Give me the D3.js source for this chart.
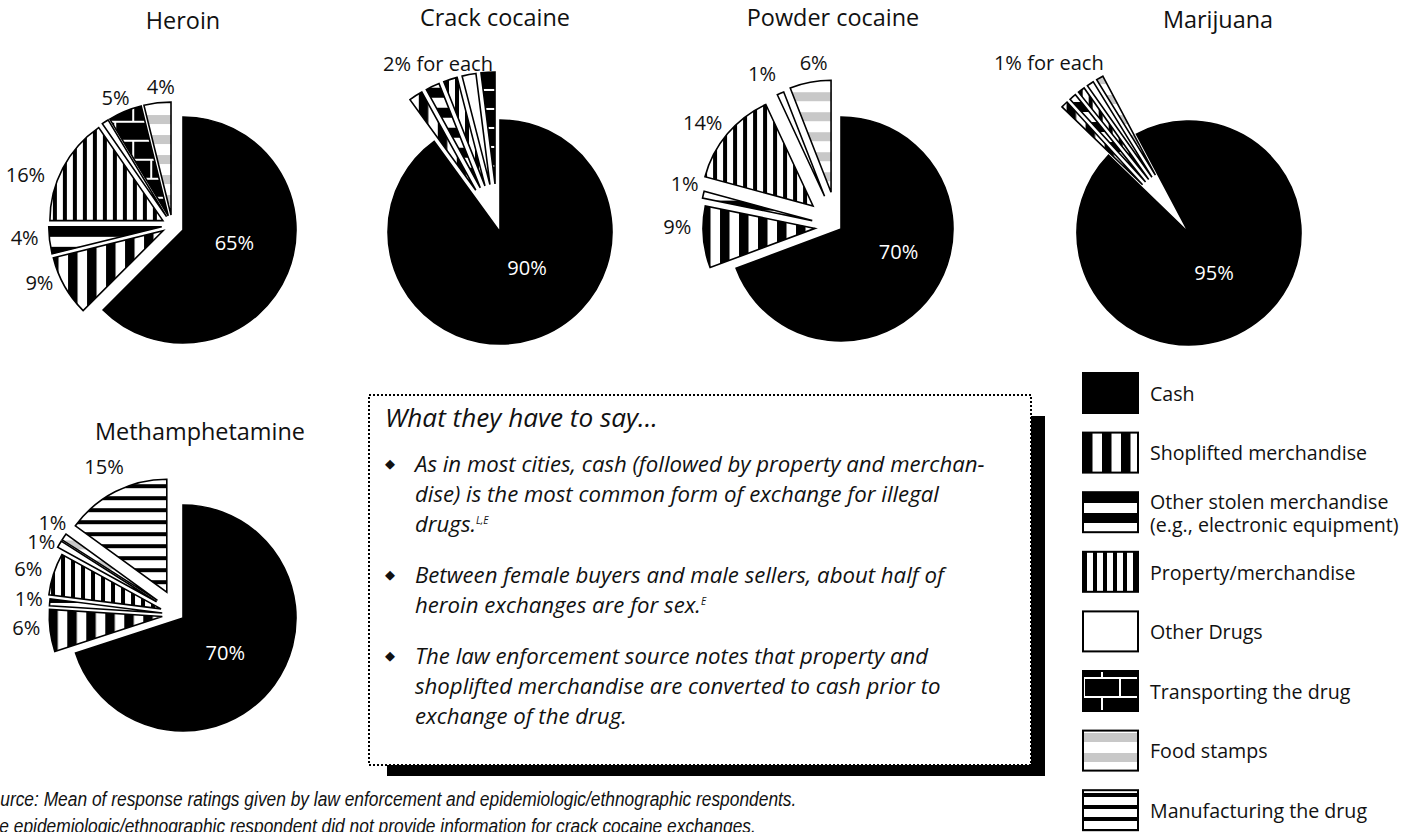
<!DOCTYPE html>
<html>
<head>
<meta charset="utf-8">
<script src="https://cdn.jsdelivr.net/npm/d3@7"></script>
<style>
  html, body { margin: 0; padding: 0; background: #fff; overflow: hidden; }
  svg { display: block; }
  text { font-family: "Open Sans", "Noto Sans", sans-serif; fill: #111; }
</style>
</head>
<body>
<svg id="chart" width="1413" height="832"></svg>
<script>
// Forms of exchange for illegal drugs (legend order = slice order)
const categories = [
  "Cash",
  "Shoplifted merchandise",
  "Other stolen merchandise",
  "Property/merchandise",
  "Other Drugs",
  "Transporting the drug",
  "Food stamps",
  "Manufacturing the drug"
];
const legendLines = [
  ["Cash"],
  ["Shoplifted merchandise"],
  ["Other stolen merchandise", "(e.g., electronic equipment)"],
  ["Property/merchandise"],
  ["Other Drugs"],
  ["Transporting the drug"],
  ["Food stamps"],
  ["Manufacturing the drug"]
];
const drugs = ["Heroin", "Crack cocaine", "Powder cocaine", "Marijuana", "Methamphetamine"];

// Percent of exchanges, one value per category above (0 = not reported)
const heroinValues    = [65, 9, 4, 16, 1, 5, 4, 0];
const crackValues     = [90, 2, 2, 2, 2, 2, 0, 0];
const powderValues    = [70, 9, 1, 14, 1, 0, 6, 0];
const marijuanaValues = [95, 1, 1, 1, 1, 0, 1, 0];
const methValues      = [70, 6, 1, 6, 1, 0, 1, 15];
const drugValues = [heroinValues, crackValues, powderValues, marijuanaValues, methValues];

// Notes used instead of one label per small slice
const groupNotes = [null, "2% for each", null, "1% for each", null];

const bulletTitle = "What they have to say...";
const bullets = [
  [["As in most cities, cash (followed by property and merchan-"],
   ["dise) is the most common form of exchange for illegal"],
   ["drugs.", "L,E"]],
  [["Between female buyers and male sellers, about half of"],
   ["heroin exchanges are for sex.", "E"]],
  [["The law enforcement source notes that property and"],
   ["shoplifted merchandise are converted to cash prior to"],
   ["exchange of the drug."]]
];
const sourceLines = [
  "Source: Mean of response ratings given by law enforcement and epidemiologic/ethnographic respondents.",
  "The epidemiologic/ethnographic respondent did not provide information for crack cocaine exchanges."
];

// ---- layout (positions, explosion offsets, label nudges) ----
const deg = Math.PI / 180;
const pieLayout = [
  { cx: 183, cy: 230, r: 113, start: 0, cashExplode: 11.6,
    explode: [0, 10.6, 10.6, 10.6, 10.6, 10.6, 10.6, 0],
    title: [183, 29], cashNudge: [-6, -11],
    nudge: {1: [-13, -10], 2: [-11, -4], 3: [-25, 13], 5: [-4, 0], 6: [5, -2]},
    hidden: [4] },
  { cx: 500, cy: 232, r: 112, start: 0, cashExplode: 7.9,
    explode: [0, 40.6, 40.6, 40.6, 40.6, 40.6, 0, 0],
    title: [495, 26], cashNudge: [8, -23], groupNudge: [-8, -2], hidden: [] },
  { cx: 841, cy: 229, r: 112, start: 0, cashExplode: 4.2,
    explode: [0, 22.6, 26, 32, 33, 0, 35, 0],
    title: [833, 26], cashNudge: [7, -12],
    nudge: {1: [-12, -11], 2: [-5, -8], 3: [-14, -2], 4: [-13, -6], 6: [6, -5]},
    hidden: [] },
  { cx: 1189, cy: 233, r: 112, start: -28 * deg, cashExplode: 3,
    explode: [0, 64, 64, 64, 64, 0, 64, 0],
    title: [1218, 28], cashNudge: [-12, -9], groupNudge: [-24, -16], hidden: [] },
  { cx: 183, cy: 618, r: 113, start: 0, cashExplode: 6,
    explode: [0, 16, 16, 18, 25, 0, 25, 25],
    title: [200, 440], cashNudge: [-8, -2],
    nudge: {1: [-10, -4], 2: [-7, -2], 3: [-12, -1], 4: [-6, 5], 6: [0, -6], 7: [-5, -12]},
    hidden: [] }
];

const svg = d3.select("#chart");
const defs = svg.append("defs");

// font size that makes a sample string span a given width
function fitSize(sample, width, attrs) {
  const t = svg.append("text").attr("font-size", 20).text(sample);
  Object.entries(attrs || {}).forEach(([k, v]) => t.attr(k, v));
  const w = t.node().getComputedTextLength();
  t.remove();
  return 20 * width / w;
}
const titleSize = fitSize("Crack cocaine", 150);
const pctSize = fitSize("2% for each", 110);
const legendSize = fitSize("Shoplifted merchandise", 217);
const headSize = fitSize(bulletTitle, 273, { "font-style": "italic" });
const bodySize = fitSize(bullets[0][0][0], 570, { "font-style": "italic" });

// ---- fill patterns ----
function pattern(id, w, h, bg, rects) {
  const p = defs.append("pattern").attr("id", id)
    .attr("patternUnits", "userSpaceOnUse").attr("width", w).attr("height", h);
  p.append("rect").attr("width", w).attr("height", h).attr("fill", bg);
  rects.forEach(([x, y, rw, rh, c]) =>
    p.append("rect").attr("x", x).attr("y", y).attr("width", rw).attr("height", rh).attr("fill", c));
}
pattern("p-shop", 19, 10, "#fff", [[0, 0, 9.5, 10, "#000"]]);
pattern("p-stolen", 10, 20, "#fff", [[0, 0, 10, 10, "#000"]]);
pattern("p-prop", 10, 10, "#fff", [[0, 0, 4, 10, "#000"]]);
pattern("p-transport", 36, 38, "#000", [
  [0, 0, 36, 2, "#fff"], [0, 19, 36, 2, "#fff"],
  [0, 0, 2, 19, "#fff"], [18, 19, 2, 19, "#fff"]]);
pattern("p-food", 10, 20, "#fff", [[0, 0, 10, 9, "#c8c8c8"]]);
pattern("p-manuf", 10, 12, "#fff", [[0, 0, 10, 4, "#000"]]);

const fills = ["#000", "url(#p-shop)", "url(#p-stolen)", "url(#p-prop)", "#fff",
               "url(#p-transport)", "url(#p-food)", "url(#p-manuf)"];

const unit = a => [Math.sin(a), -Math.cos(a)];
const fmt = v => v + "%";

// ---- pies ----
drugs.forEach((name, di) => {
  const L = pieLayout[di];
  const items = drugValues[di].map((v, i) => ({ key: i, value: v })).filter(d => d.value > 0);
  const arcs = d3.pie().sort(null).value(d => d.value)
    .startAngle(L.start).endAngle(L.start + 2 * Math.PI)(items);
  const arcGen = d3.arc().innerRadius(0).outerRadius(L.r);
  const g = svg.append("g").attr("class", "pie");

  const cash = arcs[0];
  const cashMid = (cash.startAngle + cash.endAngle) / 2;
  const uc = unit(cashMid);
  const C = [L.cx - L.cashExplode * uc[0], L.cy - L.cashExplode * uc[1]];

  arcs.forEach(a => {
    const mid = (a.startAngle + a.endAngle) / 2;
    const uu = unit(mid);
    const k = a.data.key;
    a.center = k === 0 ? [L.cx, L.cy]
      : [C[0] + L.explode[k] * uu[0], C[1] + L.explode[k] * uu[1]];
    a.mid = mid;
  });

  g.selectAll("path").data(arcs).join("path")
    .attr("transform", a => `translate(${a.center[0]},${a.center[1]})`)
    .attr("d", arcGen)
    .attr("fill", a => fills[a.data.key])
    .attr("stroke", "#000").attr("stroke-width", 1.6)
    .attr("stroke-linejoin", "miter");

  // title
  svg.append("text").attr("x", L.title[0]).attr("y", L.title[1])
    .attr("text-anchor", "middle").attr("font-size", titleSize).text(name);

  // cash share inside the slice
  svg.append("text")
    .attr("x", L.cx + 0.55 * L.r * uc[0] + L.cashNudge[0])
    .attr("y", L.cy + 0.55 * L.r * uc[1] + L.cashNudge[1])
    .attr("dy", "0.35em").attr("text-anchor", "middle")
    .attr("font-size", pctSize).style("fill", "#fff").text(fmt(cash.data.value));

  const others = arcs.slice(1);
  if (groupNotes[di]) {
    const gm = (cash.endAngle + L.start + 2 * Math.PI) / 2;
    const ug = unit(gm);
    const dAvg = d3.mean(others, a => L.explode[a.data.key]);
    svg.append("text")
      .attr("x", C[0] + (dAvg + L.r + 14) * ug[0] + L.groupNudge[0])
      .attr("y", C[1] + (dAvg + L.r + 14) * ug[1] + L.groupNudge[1])
      .attr("dy", "0.35em").attr("text-anchor", "middle")
      .attr("font-size", pctSize).text(groupNotes[di]);
  } else {
    others.filter(a => !L.hidden.includes(a.data.key)).forEach(a => {
      const uu = unit(a.mid);
      const n = L.nudge[a.data.key] || [0, 0];
      svg.append("text")
        .attr("x", a.center[0] + (L.r + 14) * uu[0] + n[0])
        .attr("y", a.center[1] + (L.r + 14) * uu[1] + n[1])
        .attr("dy", "0.35em").attr("text-anchor", "middle")
        .attr("font-size", pctSize).text(fmt(a.data.value));
    });
  }
});

// ---- legend ----
const legend = svg.append("g").attr("transform", "translate(1083,373)");
categories.forEach((c, i) => {
  const y = i * 59.6;
  legend.append("rect").attr("x", 0).attr("y", y).attr("width", 55).attr("height", 40)
    .attr("fill", fills[i]).attr("stroke", "#000").attr("stroke-width", 2);
  const lines = legendLines[i];
  lines.forEach((t, j) => {
    legend.append("text").attr("x", 67)
      .attr("y", y + 21 + (j - (lines.length - 1) / 2) * 23)
      .attr("dy", "0.35em").attr("font-size", legendSize).text(t);
  });
});

// ---- quote box ----
const box = { x: 369, y: 395, w: 662, h: 370 };
svg.append("rect").attr("x", 387).attr("y", 416)
  .attr("width", 658).attr("height", 360).attr("fill", "#000");
svg.append("rect").attr("x", box.x).attr("y", box.y).attr("width", box.w).attr("height", box.h)
  .attr("fill", "#fff").attr("stroke", "#000").attr("stroke-width", 2)
  .attr("stroke-dasharray", "2,2");

svg.append("text").attr("x", 385).attr("y", 427).attr("font-size", headSize)
  .attr("font-style", "italic").text(bulletTitle);

const bulletTops = [472, 583, 664];
bullets.forEach((lines, bi) => {
  const y0 = bulletTops[bi];
  svg.append("text").attr("x", 390).attr("y", y0 - 4).attr("text-anchor", "middle")
    .attr("font-size", 13).text("\u25C6");
  lines.forEach((parts, li) => {
    const t = svg.append("text").attr("x", 415).attr("y", y0 + li * 30)
      .attr("font-size", bodySize).attr("font-style", "italic");
    t.append("tspan").text(parts[0]);
    if (parts[1]) {
      t.append("tspan").attr("font-size", 10).attr("dy", -8).text(parts[1]);
    }
  });
});

// ---- source note (condensed italic) ----
const srcFont = '"Liberation Sans", Arial, sans-serif';
const src = svg.append("g").attr("font-style", "italic");
const probe = src.append("text").style("font-family", srcFont).attr("font-size", 19.5)
  .text(sourceLines[0]);
const sx = 818 / probe.node().getComputedTextLength();
probe.remove();
src.attr("transform", `translate(-21,0) scale(${sx},1)`);
sourceLines.forEach((t, i) => {
  src.append("text").attr("x", 0).attr("y", 806 + i * 27)
    .style("font-family", srcFont).attr("font-size", 19.5).text(t);
});
</script>
</body>
</html>
